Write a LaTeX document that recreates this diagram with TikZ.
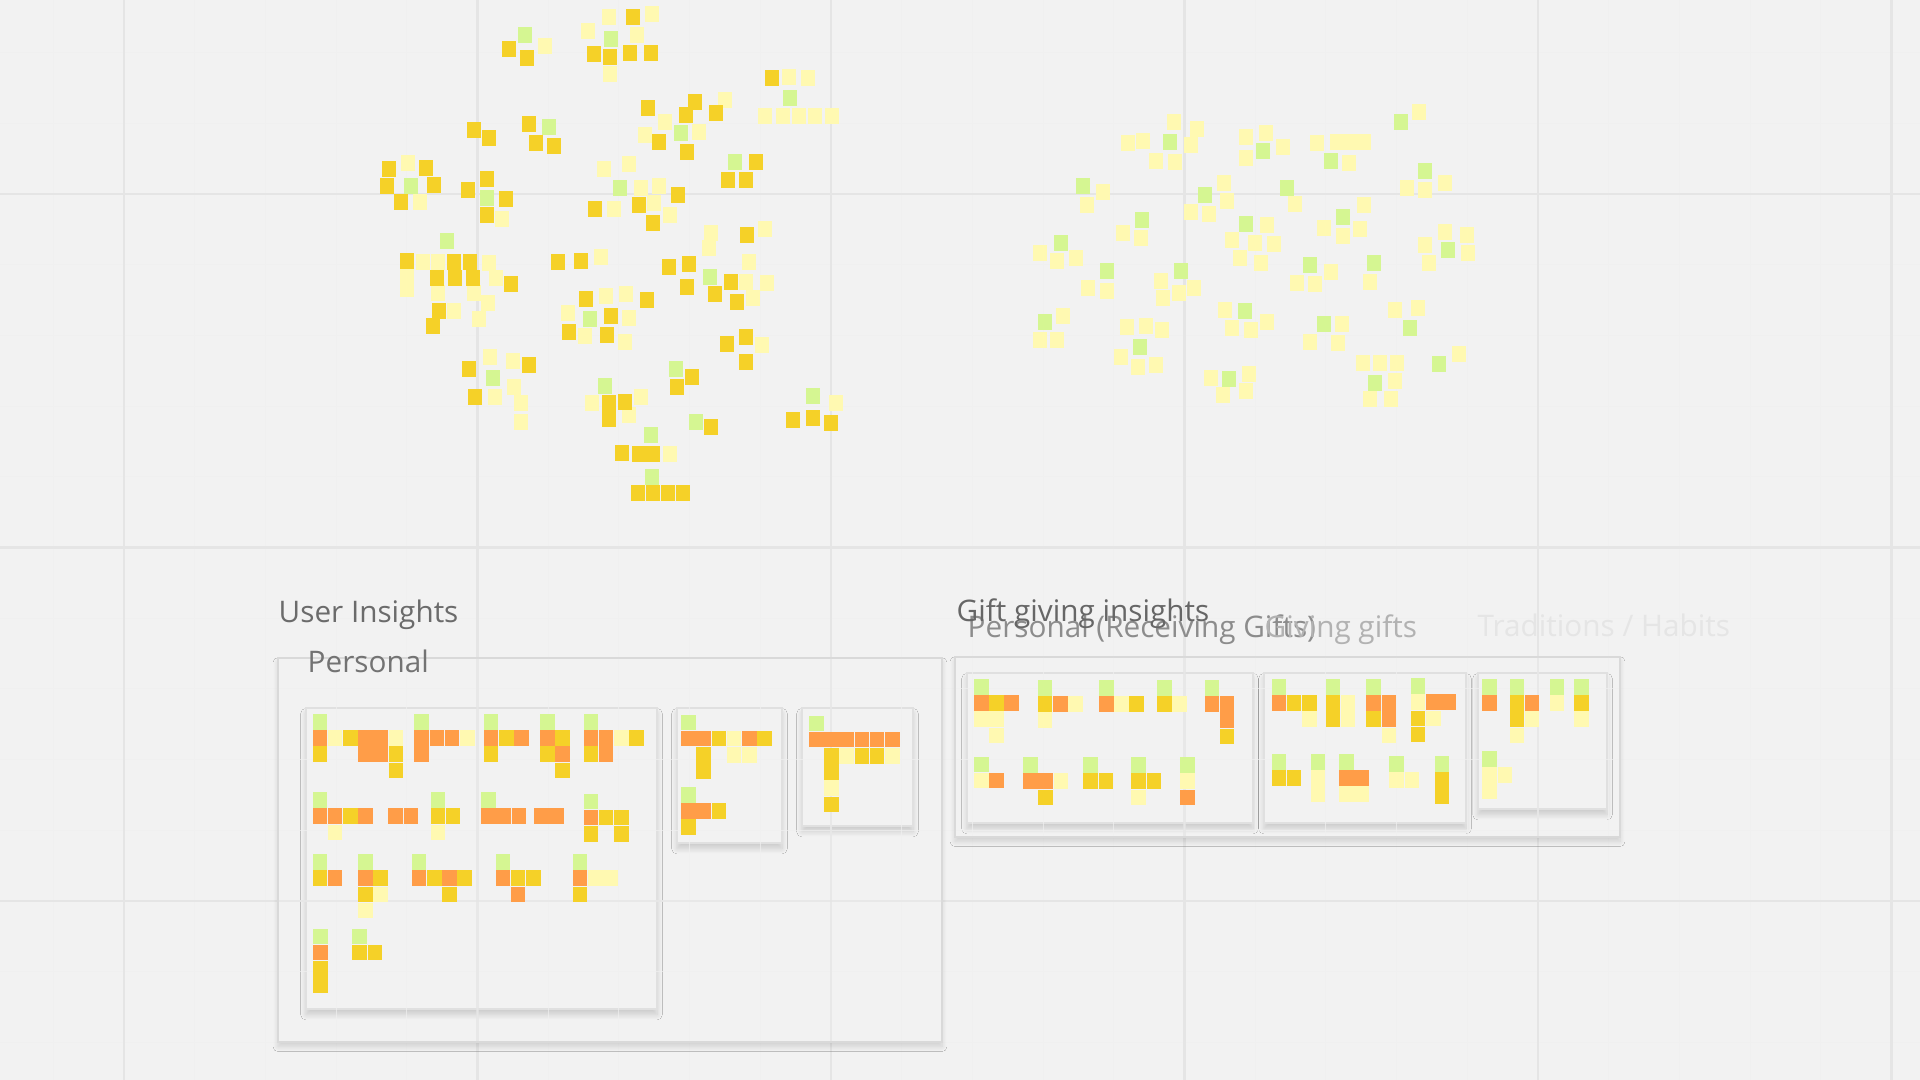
\documentclass[tikz,border=0pt]{standalone}
\usepackage{fontspec}
\setmainfont{Open Sans}
\usepackage{tikz}
\usetikzlibrary{shadows.blur}

\definecolor{board}{HTML}{F2F2F2}
\definecolor{dk}{HTML}{F5D128}
\definecolor{lt}{HTML}{FFF9B1}
\definecolor{gr}{HTML}{D5F692}
\definecolor{og}{HTML}{FF9D48}

% one group of stacked notes, origin at its top left corner
\newcommand{\notegroup}[3]{%
  \begin{scope}[shift={(#1,#2)}]
    \foreach \c/\r/\k in {#3}
      \fill[\k] (\c*15.2,\r*16.2) rectangle ++(14.6,15.6);
  \end{scope}}

% the board grid, drawn twice
\newcommand{\boardgrid}{%
  \foreach \i in {0,...,26}
    \draw[minorline] (53.3+\i*70.7,0) -- (53.3+\i*70.7,1080);
  \foreach \i in {0,...,15}
    \draw[minorline] (0,52.6+\i*70.7) -- (1920,52.6+\i*70.7);
  \foreach \i in {0,...,5}
    \draw[majorline] (124+\i*353.5,0) -- (124+\i*353.5,1080);
  \foreach \i in {0,1,2}
    \draw[majorline] (0,194+\i*353.5) -- (1920,194+\i*353.5);}

\begin{document}
\begin{tikzpicture}[
        x=0.01cm,y=-0.01cm,
        minorline/.style={draw=black!6,line width=0.3pt},
        majorline/.style={draw=black!10,line width=0.6pt},
        outerframe/.style={draw=black!15,line width=0.6pt,fill=board,
            blur shadow={shadow xshift=0pt,shadow yshift=-1.3pt,shadow blur radius=1.4pt,shadow blur steps=8,shadow opacity=14}},
        innerframe/.style={draw=black!12,line width=0.4pt,fill=board,
            blur shadow={shadow xshift=0pt,shadow yshift=-1.6pt,shadow blur radius=1.5pt,shadow blur steps=8,shadow opacity=16}},
        title/.style={anchor=base west,inner sep=0pt,font=\fontsize{8.45pt}{10pt}\selectfont}
    ]
        \useasboundingbox (0,0) rectangle (1920,1080);
        \fill[board] (0,0) rectangle (1920,1080);
        \boardgrid

        % loose notes, left cloud
        \foreach \x/\y in {545/46,609/17,652/14,588/31,637/35,610/74,789/77,808/78,765/116,783/116,799/116,815/116,832/116,
            725/100,665/122,645/135,699/132,408/163,420/202,502/219,604/169,629/164,641/188,659/186,614/209,654/203,670/215,
            711/233,709/248,765/229,749/262,423/262,438/262,489/263,407/277,407/289,496/278,438/293,474/293,488/303,454/311,
            479/319,601/257,606/296,626/294,568/313,629/318,585/336,625/342,746/282,767/283,753/298,762/345,490/357,
            513/361,514/387,495/397,521/403,521/422,592/403,641/397,629/415,670/454,836/403}
            \fill[lt] (\x-7.3,\y-8) rectangle ++(14.6,16);
        \foreach \x/\y in {509/49,527/58,633/17,594/54,610/57,630/53,651/53,772/78,648/108,695/102,686/115,716/113,659/142,
            687/152,474/130,489/138,529/124,536/143,554/146,389/169,426/168,387/186,434/185,401/202,487/179,468/190,506/199,
            487/215,678/195,595/209,639/205,653/223,756/162,728/180,746/180,747/235,407/261,454/262,470/262,437/278,455/278,
            473/278,511/284,439/311,433/326,558/262,581/261,586/299,647/300,611/316,569/332,607/335,669/267,689/264,731/282,
            687/287,715/294,737/302,727/344,746/337,746/362,469/369,529/365,475/397,609/403,609/419,625/402,692/377,677/387,
            711/427,793/420,813/418,831/423,622/453,639/454,653/454,638/493,653/493,668/493,683/493}
            \fill[dk] (\x-7.3,\y-8) rectangle ++(14.6,16);
        \foreach \x/\y in {525/35,611/39,790/98,681/133,549/127,411/186,487/198,620/188,735/162,447/241,590/319,710/277,
            493/378,605/386,676/369,696/422,813/396,651/435,652/477}
            \fill[gr] (\x-7.3,\y-8) rectangle ++(14.6,16);

        % loose notes, right cloud
        \foreach \x/\y in {1174/122,1197/129,1128/143,1143/141,1191/145,1156/161,1175/162,1246/137,1266/133,1283/147,
            1246/158,1317/143,1337/142,1351/142,1364/142,1349/163,1419/112,1407/188,1425/190,1445/183,1103/192,1087/205,
            1224/183,1227/201,1191/212,1209/214,1295/204,1123/233,1141/238,1267/225,1232/240,1255/243,1274/244,1240/258,
            1261/263,1364/205,1324/228,1360/229,1343/236,1445/232,1467/235,1425/245,1468/253,1429/263,1040/253,1057/261,
            1076/258,1088/288,1107/291,1161/281,1163/298,1179/293,1194/288,1331/272,1297/283,1315/284,1370/282,1063/316,
            1040/340,1057/340,1127/327,1146/326,1162/330,1121/357,1138/367,1156/365,1225/310,1267/322,1232/328,1251/330,
            1342/324,1310/342,1338/343,1395/310,1418/308,1459/354,1363/363,1380/363,1397/363,1395/381,1370/399,1391/399,
            1211/378,1249/374,1223/395,1246/391}
            \fill[lt] (\x-7.3,\y-8) rectangle ++(14.6,16);
        \foreach \x/\y in {1170/142,1263/151,1331/161,1401/122,1425/171,1083/186,1205/195,1287/188,1142/220,1246/224,
            1343/217,1448/250,1061/243,1107/271,1181/271,1310/265,1374/263,1045/322,1140/347,1245/311,1324/324,1410/328,
            1439/364,1375/383,1229/379}
            \fill[gr] (\x-7.3,\y-8) rectangle ++(14.6,16);

        % frames
        \draw[outerframe] (278,658) rectangle (942,1042);
        \draw[innerframe] (306,708) rectangle (657,1009);
        \draw[innerframe] (677,708) rectangle (782,843);
        \draw[innerframe] (802,708) rectangle (913,826);
        \draw[outerframe] (955,657) rectangle (1620,837);
        \draw[innerframe] (967,673) rectangle (1253,823);
        \draw[innerframe] (1264,673) rectangle (1466,823);
        \draw[innerframe] (1478,673) rectangle (1607,809);

        % grid seen through the frames
        \begin{scope}
            \clip (279,659) rectangle (941,1041) (956,658) rectangle (1619,836);
            \begin{scope}[opacity=0.7]
                \boardgrid
            \end{scope}
        \end{scope}

        % titles
        \node[title,text=black!58] (userins) at (278,622.5) {User Insights};
        \node[title,text=black!55] (personal) at (307,672.5) {Personal};
        \node[title,text=black!45] (receiving) at (967,638) {Personal (Receiving Gifts)};
        \node[title,text=black!30] (giving) at (1264,638) {Giving gifts};
        \node[title,text=black!10] (traditions) at (1477,637) {Traditions / Habits};
        \node[title,text=black!60] (giftins) at (956,621.5) {Gift giving insights};

        % grouped notes, user insights
        \notegroup{312.5}{714}{0/0/gr,0/1/og,0/2/dk,1/1/lt,2/1/dk,3/1/og,3/2/og,4/1/og,4/2/og,5/1/lt,5/2/dk,5/3/dk}
        \notegroup{414.4}{714}{0/0/gr,0/1/og,0/2/og,1/1/og,2/1/og,3/1/lt}
        \notegroup{483.8}{714}{0/0/gr,0/1/og,0/2/dk,1/1/dk,2/1/og}
        \notegroup{540.2}{714}{0/0/gr,0/1/og,0/2/dk,1/1/dk,1/2/og,1/3/dk}
        \notegroup{583.5}{714}{0/0/gr,0/1/og,0/2/dk,1/1/og,1/2/og,2/1/lt,3/1/dk}
        \notegroup{312.5}{792.3}{0/0/gr,0/1/og,1/1/og,1/2/lt,2/1/dk,3/1/og}
        \notegroup{388.4}{792.3}{0/1/og,1/1/og}
        \notegroup{430.5}{792.3}{0/0/gr,0/1/dk,0/2/lt,1/1/dk}
        \notegroup{481.2}{792.3}{0/0/gr,0/1/og,1/1/og,2/1/og}
        \notegroup{534.1}{792.3}{0/1/og,1/1/og}
        \notegroup{583.5}{793.7}{0/0/gr,0/1/og,0/2/dk,1/1/dk,2/1/dk,2/2/dk}
        \notegroup{312.5}{854.3}{0/0/gr,0/1/dk,1/1/og}
        \notegroup{358}{854.3}{0/0/gr,0/1/og,0/2/dk,0/3/lt,1/1/dk,1/2/lt}
        \notegroup{411.8}{854.3}{0/0/gr,0/1/og,1/1/dk,2/1/og,2/2/dk,3/1/dk}
        \notegroup{495.5}{854.3}{0/0/gr,0/1/og,1/1/dk,1/2/og,2/1/dk}
        \notegroup{572.7}{854.3}{0/0/gr,0/1/og,0/2/dk,1/1/lt,2/1/lt}
        \notegroup{313.4}{928.7}{0/0/gr,0/1/og,0/2/dk,0/3/dk}
        \notegroup{352.4}{928.7}{0/0/gr,0/1/dk,1/1/dk}
        \notegroup{681.1}{714.7}{0/0/gr,0/1/og,1/1/og,1/2/dk,1/3/dk,2/1/dk,3/1/lt,3/2/lt,4/1/og,4/2/lt,5/1/dk}
        \notegroup{681.1}{787}{0/0/gr,0/1/og,0/2/dk,1/1/og,2/1/dk}
        \notegroup{809}{715.7}{0/0/gr,0/1/og,1/1/og,1/2/dk,1/3/dk,1/4/lt,1/5/dk,2/1/og,2/2/lt,3/1/og,3/2/dk,4/1/og,4/2/dk,5/1/og,5/2/lt}

        % grouped notes, gift giving insights
        \notegroup{974}{679}{0/0/gr,0/1/og,0/2/lt,1/1/dk,1/2/lt,1/3/lt,2/1/og}
        \notegroup{1037.8}{680}{0/0/gr,0/1/dk,0/2/lt,1/1/og,2/1/lt}
        \notegroup{1099}{680}{0/0/gr,0/1/og,1/1/lt,2/1/dk}
        \notegroup{1157}{680}{0/0/gr,0/1/dk,1/1/lt}
        \notegroup{1204.6}{680}{0/0/gr,0/1/og,1/1/og,1/2/og,1/3/dk}
        \notegroup{974}{756.7}{0/0/gr,0/1/lt,1/1/og}
        \notegroup{1023.2}{757.3}{0/0/gr,0/1/og,1/1/og,1/2/dk,2/1/lt}
        \notegroup{1083.3}{757.3}{0/0/gr,0/1/dk,1/1/dk}
        \notegroup{1131.4}{757.3}{0/0/gr,0/1/dk,0/2/lt,1/1/dk}
        \notegroup{1180}{757.3}{0/0/gr,0/1/lt,0/2/og}
        \notegroup{1271.6}{679}{0/0/gr,0/1/og,1/1/dk,2/1/dk,2/2/lt}
        \notegroup{1325.5}{679}{0/0/gr,0/1/dk,0/2/dk,1/1/lt,1/2/lt}
        \notegroup{1366.3}{679}{0/0/gr,0/1/og,0/2/dk,1/1/og,1/2/og,1/3/lt}
        \notegroup{1410.7}{678.3}{0/0/gr,0/1/lt,0/2/dk,0/3/dk,1/1/og,1/2/lt,2/1/og}
        \notegroup{1271.6}{754}{0/0/gr,0/1/dk,1/1/dk}
        \notegroup{1310.8}{754}{0/0/gr,0/1/lt,0/2/lt}
        \notegroup{1339}{754}{0/0/gr,0/1/og,0/2/lt,1/1/og,1/2/lt}
        \notegroup{1389.3}{756}{0/0/gr,0/1/lt,1/1/lt}
        \notegroup{1434.8}{756}{0/0/gr,0/1/dk,0/2/dk}
        \notegroup{1482.4}{679}{0/0/gr,0/1/og}
        \notegroup{1509.6}{679}{0/0/gr,0/1/dk,0/2/dk,0/3/lt,1/1/og,1/2/lt}
        \notegroup{1549.8}{679}{0/0/gr,0/1/lt}
        \notegroup{1574.4}{679}{0/0/gr,0/1/dk,0/2/lt}
        \notegroup{1482.4}{751}{0/0/gr,0/1/lt,0/2/lt,1/1/lt}
    \end{tikzpicture}
\end{document}
